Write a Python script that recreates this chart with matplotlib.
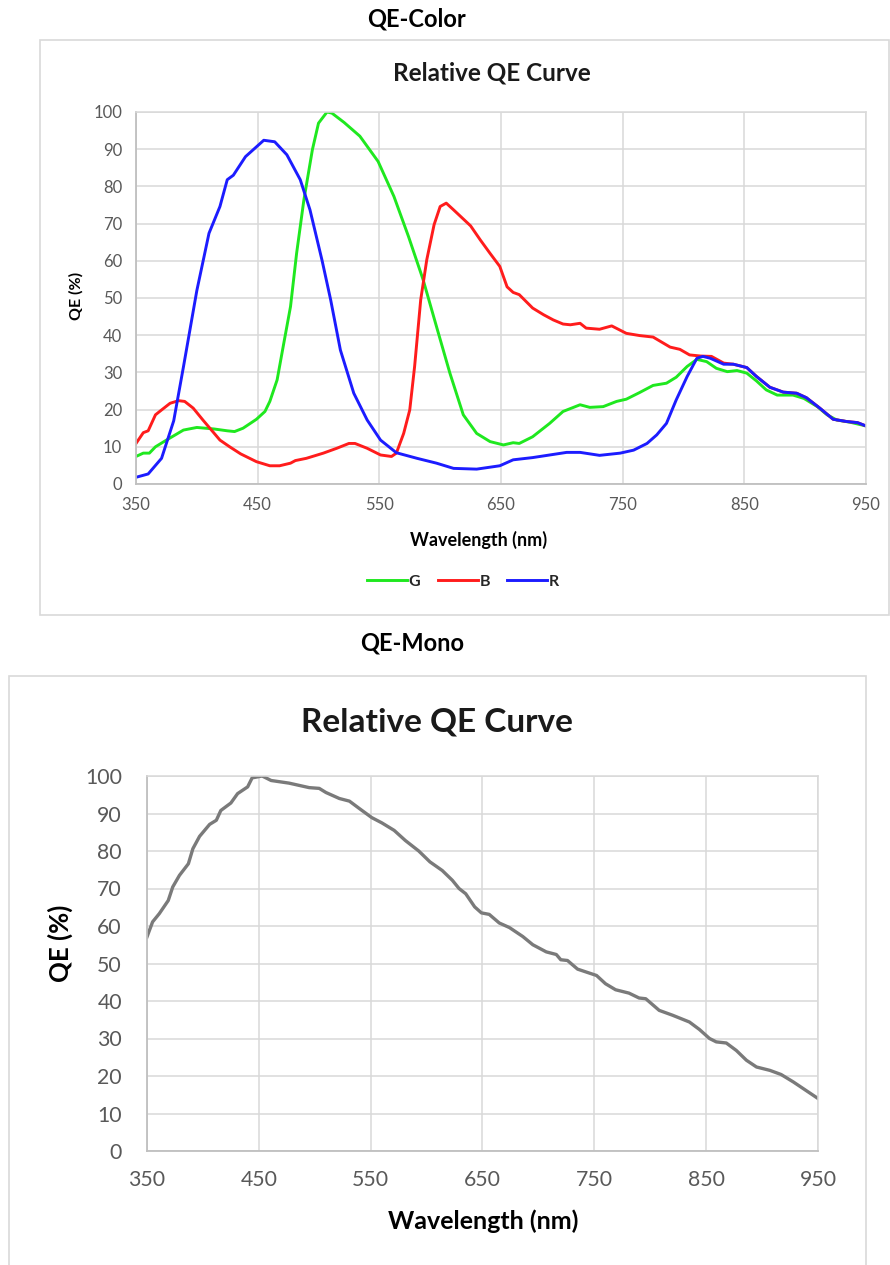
import matplotlib
matplotlib.use("Agg")
import matplotlib.pyplot as plt
from matplotlib.patches import Rectangle

plt.rcParams['font.family'] = ['Lato', 'DejaVu Sans']

# ---------------- data ----------------
x_ticks = [350, 450, 550, 650, 750, 850, 950]
y_ticks = [0, 10, 20, 30, 40, 50, 60, 70, 80, 90, 100]

g_wl = [350, 356, 361, 366, 375, 389, 400, 414, 425, 431, 438, 449, 456, 460, 466, 471, 477, 482, 488, 495,
        500, 507, 511, 521, 534, 549, 562, 574, 586, 597, 608, 619, 630, 641, 652, 660, 665, 676, 690, 701,
        715, 723, 734, 745, 753, 764, 775, 786, 794, 803, 811, 819, 827, 836, 844, 852, 860, 868, 877, 890,
        899, 910, 918, 926, 937, 950]
g_val = [7.4, 8.3, 8.3, 10, 11.8, 14.5, 15.2, 14.8, 14.3, 14.1, 15, 17.4, 19.5, 22.2, 28, 37, 47.7, 62, 76.4, 89.9,
         97, 100, 99.7, 97.2, 93.5, 86.7, 77.3, 66.5, 54.9, 42.3, 29.8, 18.6, 13.6, 11.4, 10.5, 11.1, 10.9, 12.7, 16.3, 19.5,
         21.3, 20.6, 20.8, 22.2, 22.8, 24.6, 26.5, 27.1, 28.7, 31.6, 33.5, 32.9, 31.1, 30.2, 30.5, 29.8, 27.7, 25.3, 23.9, 23.9,
         23, 20.8, 18.6, 17.2, 16.6, 15.6]

b_wl = [350, 356, 360, 366, 371, 378, 385, 390, 397, 405, 412, 419, 427, 436, 449, 460, 468, 477, 481, 490,
        504, 515, 525, 530, 540, 551, 560, 564, 570, 575, 579, 584, 589, 595, 600, 605, 611, 625, 633, 641,
        649, 655, 660, 665, 676, 685, 693, 701, 707, 715, 720, 731, 741, 753, 764, 775, 789, 797, 805, 814,
        823, 833, 841, 852, 860, 871, 882, 893, 901, 912, 923, 934, 943, 950]
b_val = [10.9, 13.8, 14.3, 18.6, 19.9, 21.7, 22.4, 22.2, 20.4, 17.2, 14.5, 11.8, 10, 8.1, 6, 4.9, 4.9, 5.6, 6.3, 6.9,
         8.3, 9.6, 10.9, 10.9, 9.6, 7.8, 7.4, 8.3, 13.6, 19.9, 31.6, 49.5, 60.3, 69.7, 74.6, 75.5, 73.7, 69.4, 65.6, 62,
         58.5, 53, 51.5, 50.9, 47.3, 45.5, 44.1, 43, 42.8, 43.2, 41.9, 41.6, 42.5, 40.5, 39.9, 39.5, 36.8, 36.2, 34.7, 34.4,
         34.3, 32.5, 32.2, 31.3, 28.9, 26, 24.7, 24.4, 23.2, 20.4, 17.4, 16.8, 16.5, 15.6]

r_wl = [350, 360, 371, 381, 389, 400, 410, 419, 425, 430, 440, 455, 464, 474, 485, 493, 503, 510, 518, 529,
        540, 551, 564, 581, 597, 611, 630, 649, 660, 676, 704, 715, 731, 748, 759, 770, 778, 786, 794, 803,
        811, 816, 822, 833, 841, 852, 860, 871, 882, 893, 901, 912, 923, 934, 943, 950]
r_val = [1.8, 2.7, 6.9, 17, 31.5, 52, 67.4, 74.6, 81.8, 83, 88, 92.4, 92, 88.5, 81.8, 73.7, 60, 49.5, 36, 24.4,
         17.2, 11.8, 8.4, 6.9, 5.6, 4.2, 4.0, 4.9, 6.5, 7.1, 8.5, 8.5, 7.7, 8.3, 9.1, 10.9, 13.2, 16.3, 22.6, 28.9,
         33.8, 34.3, 33.8, 32.2, 32.2, 31.3, 28.9, 26, 24.7, 24.4, 23.2, 20.4, 17.4, 16.8, 16.5, 15.6]

mono_wl = [350, 355, 361, 369, 373, 379, 387, 391, 397, 406, 412, 416, 425, 431, 440, 444, 453, 461, 477, 495,
           504, 510, 522, 531, 540, 551, 560, 571, 581, 593, 603, 614, 623, 629, 635, 643, 649, 656, 665, 674,
           686, 695, 707, 716, 720, 726, 735, 752, 760, 769, 781, 790, 796, 808, 820, 835, 844, 853, 859, 868,
           877, 886, 895, 907, 917, 928, 938, 950]
mono_val = [57.1, 61.1, 63.3, 66.8, 70.4, 73.5, 76.6, 80.6, 83.9, 87.1, 88.2, 90.8, 92.8, 95.3, 97.1, 99.5, 100, 98.8, 98.1, 96.9,
            96.7, 95.6, 94, 93.3, 91.3, 88.9, 87.5, 85.5, 82.8, 80, 77.1, 74.8, 72.2, 70, 68.6, 65.1, 63.5, 63.1, 60.8, 59.6,
            57.2, 55, 53.1, 52.4, 51, 50.8, 48.5, 46.8, 44.6, 43, 42.1, 40.8, 40.6, 37.5, 36.2, 34.4, 32.4, 30, 29.1, 28.8,
            26.8, 24.2, 22.4, 21.5, 20.4, 18.4, 16.4, 14]

series_labels = ['G', 'B', 'R']
series_colors = ['#1fe81f', '#ff1c1c', '#1c1cff']

# ---------------- layout helpers ----------------
W, H = 890, 1265
fig = plt.figure(figsize=(W / 100, H / 100), dpi=100)


def fx(x):
    return x / W


def fy(y):
    return 1 - y / H


def axes_px(l, t, r, b):
    return fig.add_axes([fx(l), fy(b), fx(r) - fx(l), fy(t) - fy(b)])


GRID = '#d9d9d9'
TICKC = '#595959'

# frames
fig.patches.append(Rectangle((fx(40), fy(615)), fx(889) - fx(40), fy(40) - fy(615),
                             transform=fig.transFigure, fill=False, edgecolor='#d9d9d9', lw=1.2))
fig.patches.append(Rectangle((fx(9), fy(1268)), fx(866) - fx(9), fy(676) - fy(1268),
                             transform=fig.transFigure, fill=False, edgecolor='#d9d9d9', lw=1.2))


def style_axes(ax, fs, ypad, xpad):
    ax.set_xlim(350, 950)
    ax.set_ylim(0, 100)
    ax.set_xticks(x_ticks)
    ax.set_yticks(y_ticks)
    ax.grid(True, color=GRID, lw=1.1)
    ax.set_axisbelow(True)
    for s in ['top', 'right']:
        ax.spines[s].set_color(GRID)
        ax.spines[s].set_linewidth(1.1)
    for s in ['left', 'bottom']:
        ax.spines[s].set_color('#bfbfbf')
        ax.spines[s].set_linewidth(1.3)
    ax.tick_params(axis='both', length=0, labelsize=fs, labelcolor=TICKC)
    ax.tick_params(axis='y', pad=ypad)
    ax.tick_params(axis='x', pad=xpad)


# ---------------- top chart ----------------
fig.text(fx(416), fy(19), 'QE-Color', ha='center', va='center', fontsize=17, fontweight='bold', color='black')
ax1 = axes_px(136, 112, 866, 484)
style_axes(ax1, 12, 10, 9)
ax1.plot(g_wl, g_val, color=series_colors[0], lw=2.1, label=series_labels[0])
ax1.plot(b_wl, b_val, color=series_colors[1], lw=2.1, label=series_labels[1])
ax1.plot(r_wl, r_val, color=series_colors[2], lw=2.1, label=series_labels[2])
fig.text(fx(492), fy(73), 'Relative QE Curve', ha='center', va='center', fontsize=17.5, fontweight='bold', color='#1a1a1a')
fig.text(fx(76), fy(296), 'QE (%)', ha='center', va='center', rotation=90, fontsize=11.5, fontweight='bold', color='black')
fig.text(fx(479), fy(540), 'Wavelength (nm)', ha='center', va='center', fontsize=13, fontweight='bold', color='black')
leg = ax1.legend(loc='center', bbox_to_anchor=(fx(463), fy(582)), bbox_transform=fig.transFigure,
                 ncol=3, frameon=False, handlelength=2.5, handletextpad=0.1, columnspacing=1.1,
                 prop={'size': 11.5, 'weight': 'bold'})
for t in leg.get_texts():
    t.set_color('#262626')

# ---------------- bottom chart ----------------
fig.text(fx(412), fy(643), 'QE-Mono', ha='center', va='center', fontsize=17, fontweight='bold', color='black')
ax2 = axes_px(147, 776, 818, 1151)
style_axes(ax2, 15.3, 18, 14)
ax2.plot(mono_wl, mono_val, color='#7a7a7a', lw=2.4)
fig.text(fx(437), fy(722), 'Relative QE Curve', ha='center', va='center', fontsize=24, fontweight='bold', color='#1a1a1a')
fig.text(fx(60), fy(943), 'QE (%)', ha='center', va='center', rotation=90, fontsize=18.5, fontweight='bold', color='black')
fig.text(fx(483), fy(1221), 'Wavelength (nm)', ha='center', va='center', fontsize=18, fontweight='bold', color='black')

fig.savefig('out.png', dpi=100)
